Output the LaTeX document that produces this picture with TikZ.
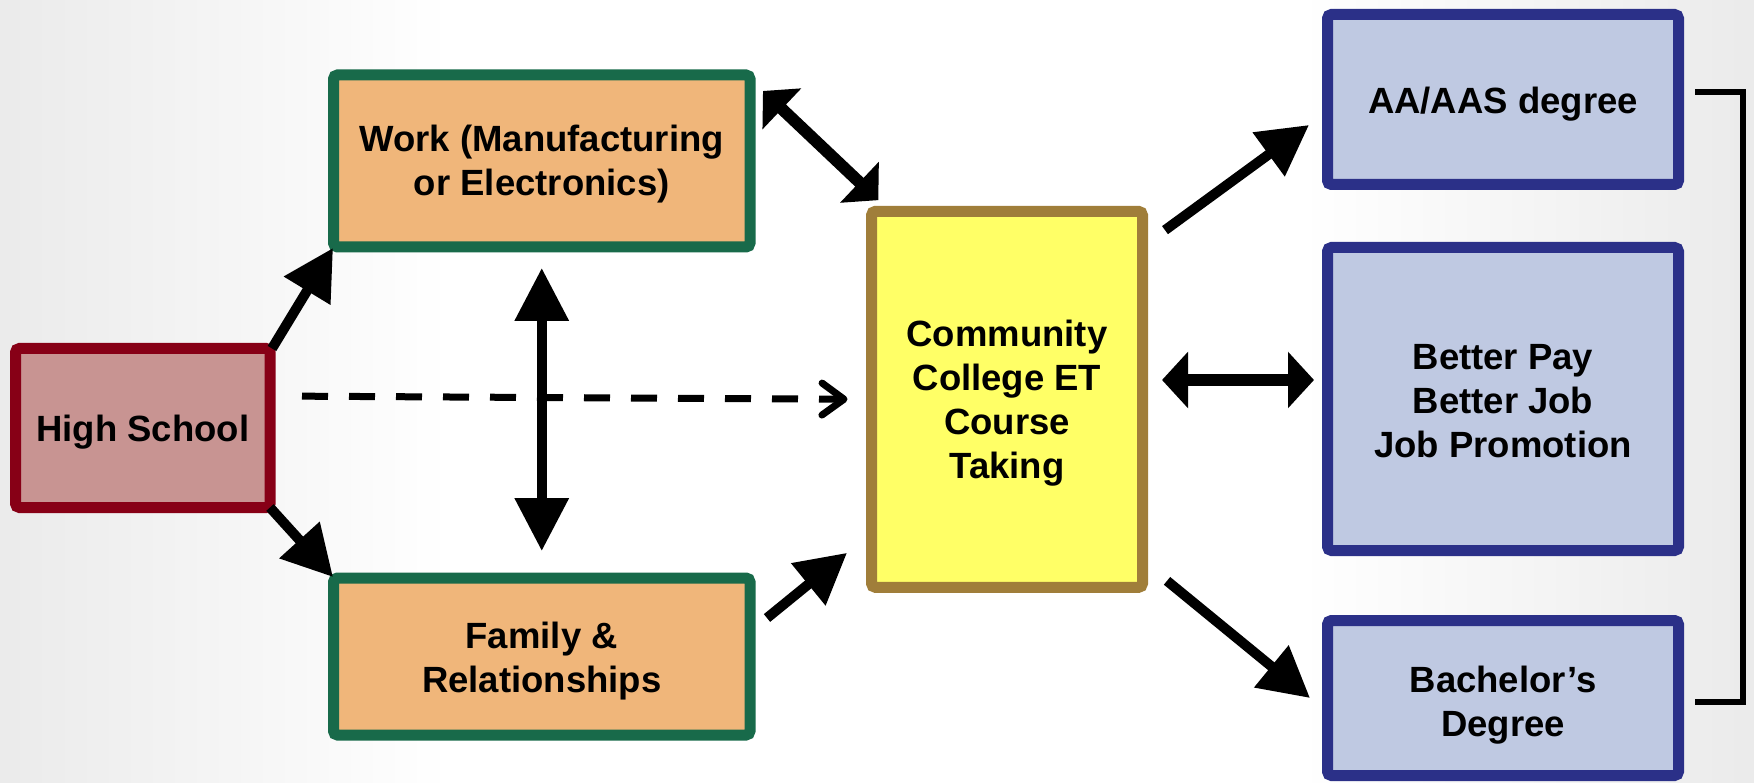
\documentclass[tikz,border=0pt]{standalone}
\usepackage{fontspec}
\setmainfont{Liberation Sans}
\usetikzlibrary{arrows.meta,calc}
\definecolor{hsborder}{RGB}{135,0,22}
\definecolor{hsfill}{RGB}{200,148,146}
\definecolor{wkborder}{RGB}{24,106,74}
\definecolor{wkfill}{RGB}{240,182,122}
\definecolor{ccborder}{RGB}{160,126,58}
\definecolor{ccfill}{RGB}{255,255,102}
\definecolor{blborder}{RGB}{43,48,136}
\definecolor{blfill}{RGB}{191,201,226}
\tikzset{
  box/.style={draw, line width=11pt, rounded corners=4pt, inner sep=0pt, outer sep=0pt},
  hsbox/.style={box, draw=hsborder, fill=hsfill},
  wkbox/.style={box, draw=wkborder, fill=wkfill},
  ccbox/.style={box, draw=ccborder, fill=ccfill},
  blbox/.style={box, draw=blborder, fill=blfill},
  txt/.style={align=center, inner sep=0pt, font=\fontsize{36.5}{44}\selectfont\bfseries},
  sarrow/.style={line width=10pt, -{Triangle[length=50pt,width=52pt]}},
  darrow/.style={line width=12pt, {Triangle[length=26pt,width=55pt]}-{Triangle[length=26pt,width=55pt]}},
  varrow/.style={line width=10pt, {Triangle[length=53pt,width=52pt]}-{Triangle[length=53pt,width=52pt]}},
  dsharrow/.style={line width=7pt, dash pattern=on 26pt off 21pt, -{Straight Barb[length=22pt,width=32pt,line width=7pt,round]}},
  bracketline/.style={line width=6pt, line join=miter}
}
\begin{document}
\begin{tikzpicture}[x=1pt,y=-1pt]
\useasboundingbox (0,0) rectangle (1754,783);
\fill[white] (0,0) rectangle (1754,783);
\shade[left color=black!8, right color=white] (0,0) rectangle (450,783);
\shade[left color=white, right color=black!8] (1300,0) rectangle (1754,783);

% boxes
\node[hsbox, minimum width=254.5pt, minimum height=159pt] (hs) at (142.75,428) {};
\node[wkbox, minimum width=416.5pt, minimum height=172pt] (work) at (541.75,161) {};
\node[wkbox, minimum width=416.5pt, minimum height=157pt] (family) at (541.75,656.5) {};
\node[ccbox, minimum width=271pt, minimum height=376pt] (cc) at (1007,399.35) {};
\node[blbox, minimum width=351pt, minimum height=170pt] (aa) at (1503,99.5) {};
\node[blbox, minimum width=351pt, minimum height=303pt] (better) at (1503,399) {};
\node[blbox, minimum width=351pt, minimum height=155pt] (bach) at (1503,698) {};

% texts
\node[txt] (hsT) at ($(hs.center)+(0,4)$) {High School};
\node[txt] (workT) at ($(work.center)+(0,3)$) {Work (Manufacturing\\or Electronics)};
\node[txt] (familyT) at ($(family.center)+(0,5)$) {Family \&\\Relationships};
\node[txt] (ccT) at ($(cc.center)+(0,4)$) {Community\\College ET\\Course\\Taking};
\node[txt] (aaT) at ($(aa.center)+(0,5)$) {AA/AAS degree};
\node[txt] (betterT) at ($(better.center)+(0,2)$) {Better Pay\\Better Job\\Job Promotion};
\node[txt] (bachT) at ($(bach.center)+(0,7)$) {Bachelor’s\\Degree};

% connectors
\draw[sarrow] ($(hs.north east)+(2,0)$) -- ($(work.south west)+(-0.5,1)$);
\draw[sarrow] (hs.south east) -- ($(family.north west)+(-0.5,-1)$);
\draw[varrow, shorten <=21pt, shorten >=27pt] (work.south) -- (family.north);
\draw[dsharrow, shorten <=32pt, shorten >=24pt] ([yshift=32pt]hs.east) -- (cc.west);
\draw[darrow] ($(work.north east)+(13,16)$) -- ($(cc.north west)+(6.8,-11.2)$);
\draw[sarrow] ($(family.north east)+(17,40)$) -- ($(cc.south west)+(-24.5,-34.5)$);
\draw[sarrow] ($(cc.north east)+(22.5,18.8)$) -- ($(aa.west)+(-18.5,25.5)$);
\draw[darrow] ($(cc.east)+(19.5,-19.35)$) -- ($(better.west)+(-13.5,-19)$);
\draw[sarrow] ($(cc.south east)+(24.5,-6.5)$) -- ($(bach.west)+(-17.5,0)$);

% bracket
\draw[bracketline] (1695,92) -| (1743,702) -- (1695,702);
\end{tikzpicture}
\end{document}
